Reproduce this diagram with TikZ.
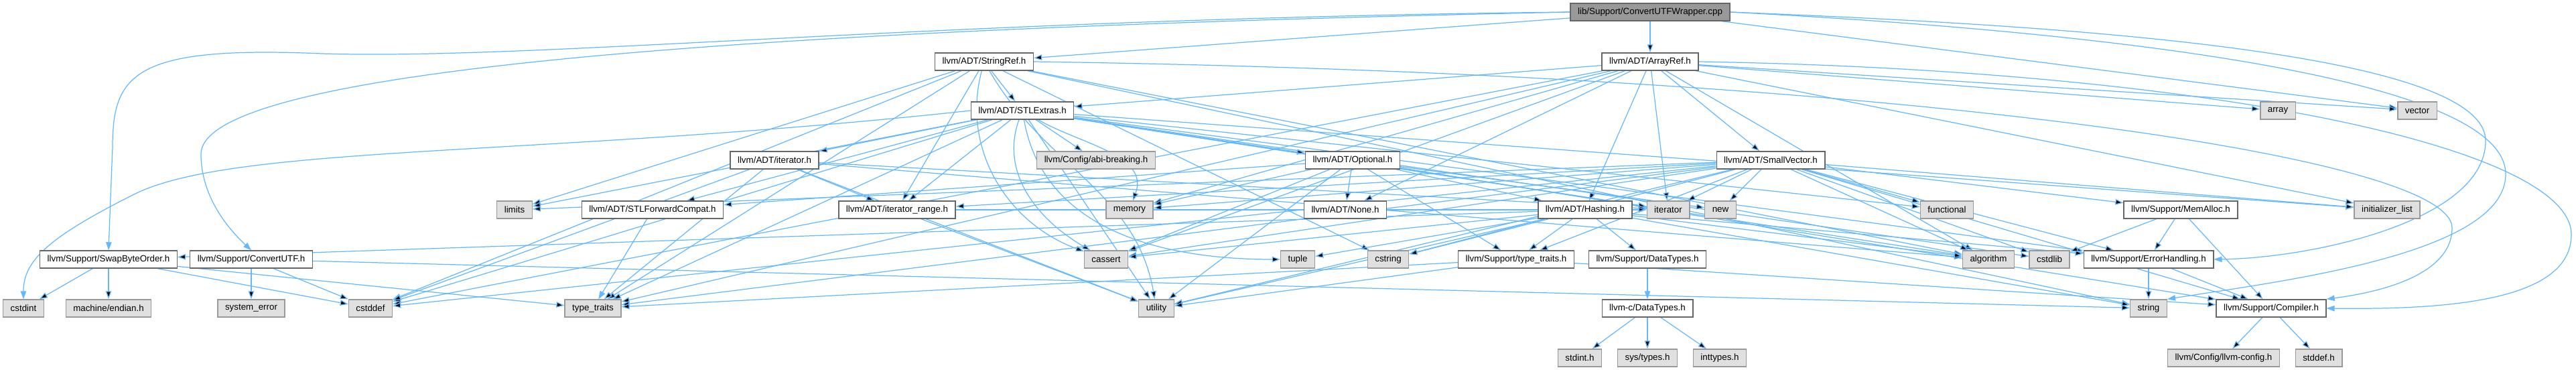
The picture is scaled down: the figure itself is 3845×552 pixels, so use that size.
\documentclass[tikz,border=0pt]{standalone}
\usepackage{fontspec}
\setmainfont{Liberation Sans}
\usetikzlibrary{arrows.meta,backgrounds}
\definecolor{edgeblue}{HTML}{63B8FF}
\definecolor{docline}{HTML}{666666}
\definecolor{extfill}{HTML}{E0E0E0}
\definecolor{extline}{HTML}{999999}
\definecolor{mainfill}{HTML}{999999}

\begin{document}
\begin{tikzpicture}[x=0.01cm, y=-0.01cm, >={Triangle[length=1.2mm,width=0.85mm]},
    every node/.style={font=\fontsize{3.8}{4.5}\selectfont, minimum height=0.26cm, inner xsep=0.11cm, inner ysep=0pt, line width=0.4pt},
    hdr/.style={draw=docline, fill=white},
    sys/.style={draw=extline, fill=extfill},
    src/.style={draw=docline, fill=mainfill},
    dep/.style={->, draw=edgeblue, line width=0.35pt}]
                \useasboundingbox (0,0) rectangle (3845,552);

                \node[src] (main) at (2463,18) {lib/Support/ConvertUTFWrapper.cpp};
                \node[hdr] (arrayref) at (2463,92) {llvm/ADT/ArrayRef.h};
                \node[hdr] (stringref) at (1469,92) {llvm/ADT/StringRef.h};
                \node[hdr] (stlextras) at (1526,165) {llvm/ADT/STLExtras.h};
                \node[sys] (array) at (3400,165) {array};
                \node[sys] (vector) at (3608,165) {vector};
                \node[hdr] (iteratorh) at (1156,239) {llvm/ADT/iterator.h};
                \node[sys] (abibreak) at (1636,239) {llvm/Config/abi-breaking.h};
                \node[hdr] (optional) at (2019,239) {llvm/ADT/Optional.h};
                \node[hdr] (smallvec) at (2643,239) {llvm/ADT/SmallVector.h};
                \node[sys] (limits) at (768,313) {limits};
                \node[hdr] (stlfwd) at (974,313) {llvm/ADT/STLForwardCompat.h};
                \node[hdr] (iterrange) at (1339,313) {llvm/ADT/iterator\_range.h};
                \node[sys] (memory) at (1686,313) {memory};
                \node[hdr] (none) at (2008,313) {llvm/ADT/None.h};
                \node[hdr] (hashing) at (2366,313) {llvm/ADT/Hashing.h};
                \node[sys] (iterator) at (2490,313) {iterator};
                \node[sys] (new) at (2568,313) {new};
                \node[sys] (functional) at (2906,313) {functional};
                \node[hdr] (memalloc) at (3255,313) {llvm/Support/MemAlloc.h};
                \node[sys] (initlist) at (3563,313) {initializer\_list};
                \node[hdr] (swapbyte) at (162,387) {llvm/Support/SwapByteOrder.h};
                \node[hdr] (convutf) at (375,387) {llvm/Support/ConvertUTF.h};
                \node[sys] (cassert) at (1651,387) {cassert};
                \node[sys] (tuple) at (1937,387) {tuple};
                \node[sys] (cstring) at (2072,387) {cstring};
                \node[hdr] (suptraits) at (2263,387) {llvm/Support/type\_traits.h};
                \node[hdr] (datatypes) at (2459,387) {llvm/Support/DataTypes.h};
                \node[sys] (algorithm) at (2968,387) {algorithm};
                \node[sys] (cstdlib) at (3059,387) {cstdlib};
                \node[hdr] (errhandling) at (3207,387) {llvm/Support/ErrorHandling.h};
                \node[sys] (cstdint) at (35,460) {cstdint};
                \node[sys] (endian) at (162,460) {machine/endian.h};
                \node[sys] (syserror) at (375,460) {system\_error};
                \node[sys] (cstddef) at (553,460) {cstddef};
                \node[sys] (typetraits) at (885,460) {type\_traits};
                \node[sys] (utility) at (1726,460) {utility};
                \node[hdr] (cdatatypes) at (2459,460) {llvm-c/DataTypes.h};
                \node[sys] (string) at (3207,460) {string};
                \node[hdr] (compiler) at (3390,460) {llvm/Support/Compiler.h};
                \node[sys] (stdinth) at (2358,534) {stdint.h};
                \node[sys] (systypes) at (2459,534) {sys/types.h};
                \node[sys] (inttypes) at (2567,534) {inttypes.h};
                \node[sys] (llvmconfig) at (3319,534) {llvm/Config/llvm-config.h};
                \node[sys] (stddefh) at (3461,534) {stddef.h};

                \begin{pgfonlayer}{background}
                \draw[dep] (main) edge (arrayref) edge (stringref) edge (vector);
                \draw[dep] (main.west) .. controls (1400,28) and (800,90) .. (480,80) .. controls (200,68) and (168,110) .. (168,220) -- (swapbyte.north);
                \draw[dep] (main.west) .. controls (1300,40) and (300,90) .. (300,230) .. controls (300,300) and (350,350) .. (convutf.north);
                \draw[dep] (main.east) .. controls (3000,35) and (3710,70) .. (3710,210) .. controls (3710,330) and (3450,385) .. (errhandling.east);
                \draw[dep] (main.east) .. controls (3100,45) and (3740,110) .. (3740,260) .. controls (3740,380) and (3400,420) .. (string.north east);

                \draw[dep] (arrayref) edge (hashing) edge (none) edge (smallvec) edge (stlextras) edge (algorithm) edge (array) edge (cassert) edge (cstddef) edge (initlist) edge (iterator) edge (memory) edge (typetraits) edge (vector);
                \draw[dep] (arrayref.east) .. controls (3300,105) and (3838,220) .. (3838,350) .. controls (3838,450) and (3650,462) .. (compiler.east);

                \draw[dep] (stringref) edge (stlextras) edge (iterrange) edge (algorithm) edge[out=-105, in=160] (cassert) edge (cstddef) edge (cstring) edge (limits) edge (string) edge (typetraits) edge[out=-60, in=100] (utility);
                \draw[dep] (stringref.east) .. controls (2800,110) and (3660,230) .. (3660,340) .. controls (3660,420) and (3520,440) .. (compiler.north east);

                \draw[dep] (stlextras) edge (optional) edge (stlfwd) edge (iteratorh) edge (iterrange) edge (abibreak) edge (errhandling) edge (algorithm) edge[out=-110, in=150] (cassert) edge (cstddef) edge (cstdlib) edge (functional) edge (initlist) edge (iterator) edge (limits) edge[out=-30, in=70] (memory) edge[out=-80, in=180] (tuple) edge (typetraits) edge (utility);
                \draw[dep] (stlextras.west) .. controls (800,235) and (350,215) .. (200,290) .. controls (70,355) and (35,390) .. (cstdint.north);

                \draw[dep] (optional) edge (hashing) edge (none) edge (stlfwd) edge (compiler) edge (suptraits) edge (cassert) edge (memory) edge (new) edge (utility);
                \draw[dep] (iteratorh) edge (iterrange) edge (algorithm) edge (cstddef) edge (iterator) edge (typetraits) edge (utility);
                \draw[dep] (iterrange) edge (iterator) edge (utility);
                \draw[dep] (stlfwd) -- (typetraits);
                \draw[dep] (smallvec) edge (iterrange) edge (compiler) edge (errhandling) edge (memalloc) edge (suptraits) edge (algorithm) edge (cassert) edge (cstddef) edge (cstdlib) edge (cstring) edge (functional) edge (initlist) edge (iterator) edge (limits) edge (memory) edge (new) edge (typetraits) edge (utility);
                \draw[dep] (hashing) edge (datatypes) edge (errhandling) edge (swapbyte) edge (suptraits) edge (algorithm) edge (cassert) edge (cstring) edge (string) edge (tuple) edge (utility);
                \draw[dep] (suptraits) edge (compiler) edge (typetraits) edge (utility);
                \draw[dep] (datatypes) -- (cdatatypes);
                \draw[dep] (cdatatypes) edge (inttypes) edge (stdinth) edge (systypes);
                \draw[dep] (memalloc) edge (compiler) edge (errhandling) edge (cstdlib);
                \draw[dep] (errhandling) edge (compiler) edge (string);
                \draw[dep] (compiler) edge (llvmconfig) edge (stddefh);
                \draw[dep] (swapbyte) edge (cstddef) edge (cstdint) edge (typetraits) edge (endian);
                \draw[dep] (convutf) edge (cstddef) edge (string) edge (syserror);
                \end{pgfonlayer}
            \end{tikzpicture}
\end{document}
